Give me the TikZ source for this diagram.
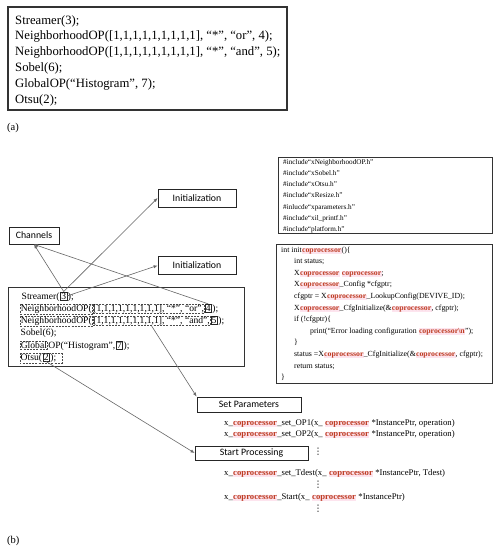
\documentclass[tikz,border=0pt]{standalone}
\usepackage{fontspec}
\setmainfont{Liberation Serif}
\newfontfamily\labelfont{Carlito}
\newfontfamily\symfont{DejaVu Sans}
\usetikzlibrary{arrows.meta,positioning}
\definecolor{copred}{RGB}{190,62,36}
\definecolor{hlpink}{RGB}{253,228,238}
\newcommand{\hlcop}[1][coprocessor]{{\setlength{\fboxsep}{0.3pt}\colorbox{hlpink}{\textbf{\color{copred}#1}}}}

\begin{document}
\begin{tikzpicture}[x=1pt,y=-1pt,
  lbl/.style={draw=black!85, line width=0.8pt, font=\labelfont\fontsize{9.8}{11}\selectfont, inner sep=0pt},
  codetxt/.style={font=\fontsize{9.6}{11}\selectfont, inner sep=0.5pt},
  dbox/.style={codetxt, draw=black!70, dash pattern=on 2pt off 1.2pt, line width=0.6pt},
  nbox/.style={codetxt, draw=black!85, line width=0.6pt, inner sep=0.8pt},
  codeframe/.style={draw=black!80, line width=0.9pt},
  codefn/.style={font=\fontsize{8.7}{10}\selectfont, inner sep=0pt},
  moredots/.style={inner sep=0pt, font=\symfont\fontsize{9}{9}\selectfont},
  link/.style={draw=black!60, line width=0.6pt, -{Latex[length=4pt,width=3.2pt]}}]
  \useasboundingbox (0,0) rectangle (498,550);

  % (a) script
  \draw[codeframe, line width=1.1pt] (8,7) rectangle (287,110);
  \node[anchor=north west, align=left, inner sep=0pt, font=\fontsize{12.7}{15.8}\selectfont] (scriptA) at (15,15)
    {Streamer(3);\\
     NeighborhoodOP([1,1,1,1,1,1,1,1,1], “*”, “or”, 4);\\
     NeighborhoodOP([1,1,1,1,1,1,1,1,1], “*”, “and”, 5);\\
     Sobel(6);\\
     GlobalOP(“Histogram”, 7);\\
     Otsu(2);};
  \node[anchor=west, inner sep=0pt, font=\fontsize{10.5}{12}\selectfont] (labA) at (7,128) {(a)};

  % header includes
  \draw[codeframe] (278,157) rectangle (492,233);
  \node[anchor=north west, align=left, inner sep=0pt, font=\fontsize{7.2}{11.2}\selectfont] (incl) at (283,159)
    {\#include“xNeighborhoodOP.h”\\
     \#include“xSobel.h”\\
     \#include“xOtsu.h”\\
     \#include“xResize.h”\\
     \#inlucde“xparameters.h”\\
     \#include“xil\_printf.h”\\
     \#include“platform.h”};

  % init function
  \draw[codeframe] (276,244) rectangle (492,383);
  \node[anchor=north west, align=left, inner sep=0pt, font=\fontsize{7.8}{11.6}\selectfont] (initcode) at (281,246.5)
    {int init\hlcop()\{\\
     \hspace{13pt}int status;\\
     \hspace{13pt}X\hlcop{} \hlcop;\\
     \hspace{13pt}X\hlcop\_Config *cfgptr;\\
     \hspace{13pt}cfgptr = X\hlcop\_LookupConfig(DEVIVE\_ID);\\
     \hspace{13pt}X\hlcop\_CfgInitialize(\&\hlcop, cfgptr);\\
     \hspace{13pt}if (!cfgptr)\{\\
     \hspace{29pt}print(“Error loading configuration \hlcop[coprocessor\textbackslash n]”);\\
     \hspace{13pt}\}\\
     \hspace{13pt}status =X\hlcop\_CfgInitialize(\&\hlcop, cfgptr);\\
     \hspace{13pt}return status;\\
     \}};

  % labels
  \node[lbl, minimum width=78, minimum height=18] (init1) at (197,198) {Initialization};
  \node[lbl, minimum width=78, minimum height=18] (init2) at (197,265.5) {Initialization};
  \node[lbl, minimum width=50, minimum height=17] (chan) at (34,235.5) {Channels};
  \node[lbl, minimum width=104, minimum height=15] (setp) at (249,404.5) {Set Parameters};
  \node[lbl, minimum width=113, minimum height=14] (startp) at (251.5,453) {Start Processing};

  % streamer script with marked parts
  \draw[codeframe] (8,287) rectangle (244,366);
  \node[codetxt, anchor=base west] (s1) at (21,299) {Streamer(};
  \node[nbox, base right=0pt of s1] (d3) {3};
  \node[codetxt, base right=0pt of d3] (s2) {);};
  \node[dbox, anchor=base west] (n1) at (20,311.3) {NeighborhoodOP(};
  \node[dbox, base right=0pt of n1] (arr1) {[1,1,1,1,1,1,1,1,1], “*”, “or”,};
  \node[nbox, base right=0pt of arr1] (d4) {4};
  \node[codetxt, base right=0pt of d4] (n1b) {);};
  \node[dbox, anchor=base west] (n2) at (20,323.6) {NeighborhoodOP(};
  \node[dbox, base right=0pt of n2] (arr2) {[1,1,1,1,1,1,1,1,1], “*”, “and”,};
  \node[nbox, base right=0pt of arr2] (d5) {5};
  \node[codetxt, base right=0pt of d5] (n2b) {);};
  \node[codetxt, anchor=base west] (sob) at (20,335.9) {Sobel(6);};
  \node[dbox, anchor=base west] (g1) at (20,348.2) {Global};
  \node[codetxt, base right=0pt of g1] (g2) {OP(“Histogram”,\ };
  \node[nbox, base right=0pt of g2] (d7) {7};
  \node[codetxt, base right=0pt of d7] (g3) {);};
  \node[codetxt, anchor=base west] (o1) at (20,360.5) {Otsu(};
  \node[nbox, base right=0pt of o1] (d2) {2};
  \node[codetxt, base right=0pt of d2] (o2) {);};
  \draw[draw=black!70, dash pattern=on 2pt off 1.2pt, line width=0.6pt] (o1.north west) rectangle ([xshift=5pt]o2.south east);

  % driver calls
  \node[codefn, anchor=base west] (op1) at (224,425) {x\_\hlcop\_set\_OP1(x\_ \hlcop{} *InstancePtr, operation)};
  \node[codefn, anchor=base west] (op2) at (224,436) {x\_\hlcop\_set\_OP2(x\_ \hlcop{} *InstancePtr, operation)};
  \node[codefn, anchor=base west] (tdest) at (224,475) {x\_\hlcop\_set\_Tdest(x\_ \hlcop{} *InstancePtr, Tdest)};
  \node[codefn, anchor=base west] (start) at (224,499) {x\_\hlcop\_Start(x\_ \hlcop{} *InstancePtr)};
  \node[moredots] (dots1) at (318,452) {⋮};
  \node[moredots] (dots2) at (318,485) {⋮};
  \node[moredots] (dots3) at (318,509) {⋮};

  % connections
  \draw[link] (d3.north) -- (chan.south);
  \draw[link] (d3.north) -- (init1.west);
  \draw[link] (d3.east) -- (init2.west);
  \draw[link] (d4.north) -- (chan.south);
  \draw[link] (arr2.south) -- (setp.north west);
  \draw[link] (d2.south) -- (startp.west);

  \node[anchor=west, inner sep=0pt, font=\fontsize{10.5}{12}\selectfont] (labB) at (7,541) {(b)};
\end{tikzpicture}
\end{document}
